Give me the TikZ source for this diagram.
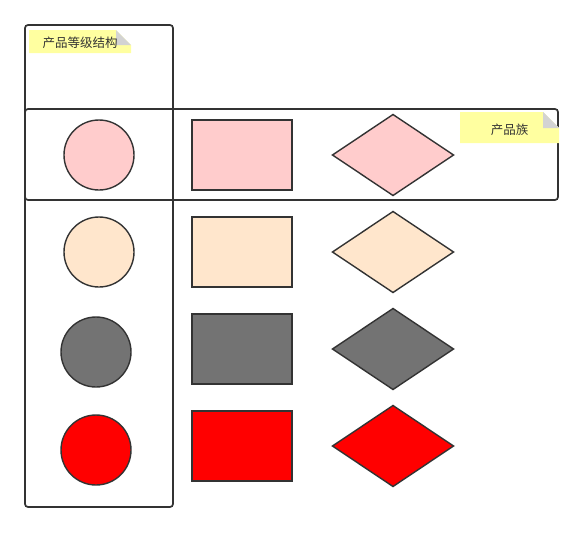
\documentclass[tikz,border=0pt]{standalone}
\usepackage{fontspec}
\setmainfont{Noto Sans CJK SC}
\definecolor{strokegray}{HTML}{333333}
\definecolor{pinkfill}{HTML}{FFCCCC}
\definecolor{bisquefill}{HTML}{FFE6CC}
\definecolor{darkfill}{HTML}{737373}
\definecolor{redfill}{HTML}{FF0000}
\definecolor{notefill}{HTML}{FFFFA0}
\definecolor{foldfill}{HTML}{D3D3D3}
\tikzset{
  frame/.style={draw=strokegray, line width=1.7pt, rounded corners=3pt},
  shapeline/.style={draw=strokegray, line width=1.4pt},
  notetext/.style={font=\fontsize{12.5pt}{14pt}\selectfont, text=black!80, inner sep=0pt},
}
\begin{document}
\begin{tikzpicture}[x=1pt, y=-1pt]
  \useasboundingbox (0,0) rectangle (584,533);

  % Frames
  \draw[frame] (25,25) rectangle (173,507);
  \draw[frame] (25,109) rectangle (558,200);

  % Note: level structure
  \fill[notefill] (29,30) -- (116,30) -- (131,45) -- (131,53) -- (29,53) -- cycle;
  \fill[foldfill] (116,30) -- (131,45) -- (116,45) -- cycle;
  \node[notetext] (levelnote) at (80,42.5) {产品等级结构};

  % Note: family
  \fill[notefill] (460,112) -- (543,112) -- (559,128) -- (559,143) -- (460,143) -- cycle;
  \fill[foldfill] (543,112) -- (559,128) -- (543,128) -- cycle;
  \node[notetext] (familynote) at (509.5,129.5) {产品族};

  % Row 1
  \draw[shapeline, fill=pinkfill] (99,155) circle (35);
  \draw[shapeline, fill=pinkfill] (192,120) rectangle (292,190);
  \draw[shapeline, fill=pinkfill] (332.5,155) -- (393,114.5) -- (453.5,155) -- (393,195.5) -- cycle;

  % Row 2
  \draw[shapeline, fill=bisquefill] (99,252) circle (35);
  \draw[shapeline, fill=bisquefill] (192,217) rectangle (292,287);
  \draw[shapeline, fill=bisquefill] (332.5,252) -- (393,211.5) -- (453.5,252) -- (393,292.5) -- cycle;

  % Row 3
  \draw[shapeline, fill=darkfill] (96,352) circle (35);
  \draw[shapeline, fill=darkfill] (192,314) rectangle (292,384);
  \draw[shapeline, fill=darkfill] (332.5,349) -- (393,308.5) -- (453.5,349) -- (393,389.5) -- cycle;

  % Row 4
  \draw[shapeline, fill=redfill] (96,450) circle (35);
  \draw[shapeline, fill=redfill] (192,411) rectangle (292,481);
  \draw[shapeline, fill=redfill] (332.5,446) -- (393,405.5) -- (453.5,446) -- (393,486.5) -- cycle;
\end{tikzpicture}
\end{document}
